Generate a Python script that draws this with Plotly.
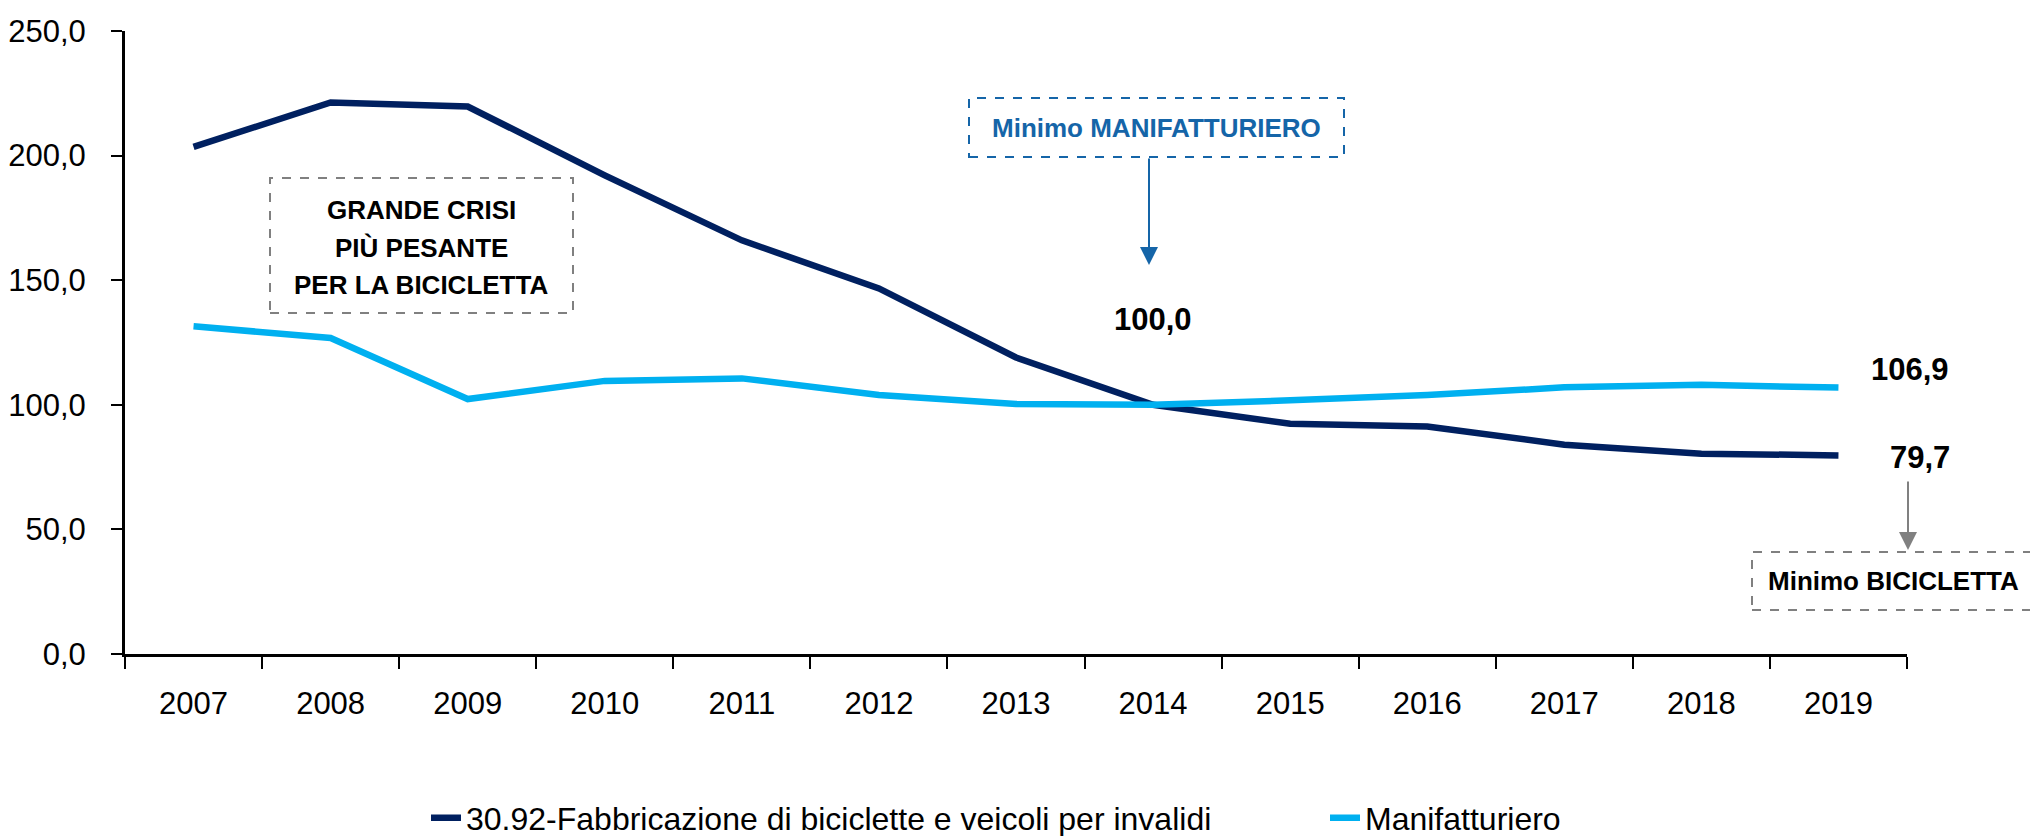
import plotly.graph_objects as go

years = ["2007", "2008", "2009", "2010", "2011", "2012", "2013",
         "2014", "2015", "2016", "2017", "2018", "2019"]
bici = [203.5, 221.3, 219.7, 192.1, 166.0, 146.7, 119.0,
        100.0, 92.4, 91.3, 84.0, 80.4, 79.7]
manif = [131.5, 126.8, 102.3, 109.6, 110.6, 103.9, 100.3,
         100.0, 101.8, 103.9, 107.0, 108.0, 106.9]
name_bici = "30.92-Fabbricazione di biciclette e veicoli per invalidi"
name_manif = "Manifatturiero"
crisi_lines = ["GRANDE CRISI", "PIÙ PESANTE", "PER LA BICICLETTA"]

# page body has an 8px margin: figure is drawn from (8, 8)
OFF = 8
W, H = 2038 - OFF, 836 - OFF
L, T = 125 - OFF, 31 - OFF
R = W - (1907 - OFF)
B = H - (654 - OFF)
PW, PH = W - L - R, H - T - B

def px(x):  # reference screen x -> paper
    return (x - OFF - L) / PW

def py(y):  # reference screen y -> paper
    return (H - B - (y - OFF)) / PH

def fmt(v):
    return f"{v:.1f}".replace(".", ",")

FONT = "Liberation Sans, Arial, sans-serif"
NAVY = "#002060"
CYAN = "#00B0F0"
BLUE = "#1565A8"
GRAY = "#808080"

fig = go.Figure()
fig.add_trace(go.Scatter(x=years, y=bici, mode="lines", name=name_bici,
                         line=dict(color=NAVY, width=6.5), legend="legend"))
fig.add_trace(go.Scatter(x=years, y=manif, mode="lines", name=name_manif,
                         line=dict(color=CYAN, width=6.5), legend="legend2"))

leg_common = dict(orientation="h", xanchor="left", y=py(818), yanchor="middle",
                  font=dict(family=FONT, size=32, color="black"),
                  bgcolor="rgba(0,0,0,0)")

fig.update_layout(
    width=W, height=H,
    margin=dict(l=L, r=R, t=T, b=B, autoexpand=False),
    plot_bgcolor="white", paper_bgcolor="white",
    font=dict(family=FONT, size=31, color="black"),
    showlegend=True,
    legend=dict(x=px(426), **leg_common),
    legend2=dict(x=px(1325), **leg_common),
    xaxis=dict(type="category", range=[-0.5, 12.5], showline=True, linecolor="black",
               linewidth=3, ticks="outside", tickson="boundaries", ticklen=12,
               tickwidth=2, tickcolor="black", showgrid=False, zeroline=False,
               ticklabelstandoff=20, tickfont=dict(size=31), automargin=False),
    yaxis=dict(range=[0, 250], tickvals=[0, 50, 100, 150, 200, 250],
               ticktext=[fmt(v) for v in [0, 50, 100, 150, 200, 250]],
               showline=True, linecolor="black", linewidth=3, ticks="outside",
               ticklen=11, tickwidth=2, tickcolor="black", showgrid=False,
               zeroline=False, ticklabelstandoff=19, tickfont=dict(size=31),
               automargin=False),
)

# data labels (x given as category index)
i14 = years.index("2014")
i19 = years.index("2019")
fig.add_annotation(x=i14, y=bici[i14], text=f"<b>{fmt(bici[i14])}</b>", showarrow=False,
                   xanchor="center", yanchor="middle", yshift=85, font=dict(size=31))
fig.add_annotation(x=i19, y=manif[i19], text=f"<b>{fmt(manif[i19])}</b>", showarrow=False,
                   xanchor="center", yanchor="middle", xshift=72, yshift=18, font=dict(size=31))
fig.add_annotation(x=i19, y=bici[i19], text=f"<b>{fmt(bici[i19])}</b>", showarrow=False,
                   xanchor="center", yanchor="middle", xshift=82, yshift=-2, font=dict(size=31))

# GRANDE CRISI box
fig.add_shape(type="rect", xref="paper", yref="paper", x0=px(270), x1=px(573),
              y0=py(313), y1=py(178), line=dict(color=GRAY, width=2, dash="dash"))
for i, line in enumerate(crisi_lines):
    fig.add_annotation(xref="paper", yref="paper", x=px(421), y=py(210 + 37.5 * i),
                       text=f"<b>{line}</b>", showarrow=False, xanchor="center",
                       yanchor="middle", font=dict(size=26))

# Minimo MANIFATTURIERO box
fig.add_shape(type="rect", xref="paper", yref="paper", x0=px(969), x1=px(1344),
              y0=py(157), y1=py(98), line=dict(color=BLUE, width=2, dash="dash"))
fig.add_annotation(xref="paper", yref="paper", x=px(1156), y=py(128),
                   text="<b>Minimo MANIFATTURIERO</b>", showarrow=False,
                   xanchor="center", yanchor="middle",
                   font=dict(size=26, color=BLUE))
fig.add_annotation(xref="paper", yref="paper", x=px(1149), y=py(265), text="",
                   showarrow=True, ax=0, ay=-108, arrowcolor=BLUE, arrowwidth=2,
                   arrowhead=2, arrowsize=1.8, standoff=0)

# Minimo BICICLETTA box
fig.add_shape(type="rect", xref="paper", yref="paper", x0=px(1752), x1=px(2034),
              y0=py(610), y1=py(552), line=dict(color=GRAY, width=2, dash="dash"))
fig.add_annotation(xref="paper", yref="paper", x=px(1893), y=py(581),
                   text="<b>Minimo BICICLETTA</b>", showarrow=False,
                   xanchor="center", yanchor="middle", font=dict(size=26))
fig.add_annotation(xref="paper", yref="paper", x=px(1908), y=py(550), text="",
                   showarrow=True, ax=0, ay=-70, arrowcolor=GRAY, arrowwidth=2,
                   arrowhead=2, arrowsize=1.8, standoff=0)

fig.write_html("out.html")
